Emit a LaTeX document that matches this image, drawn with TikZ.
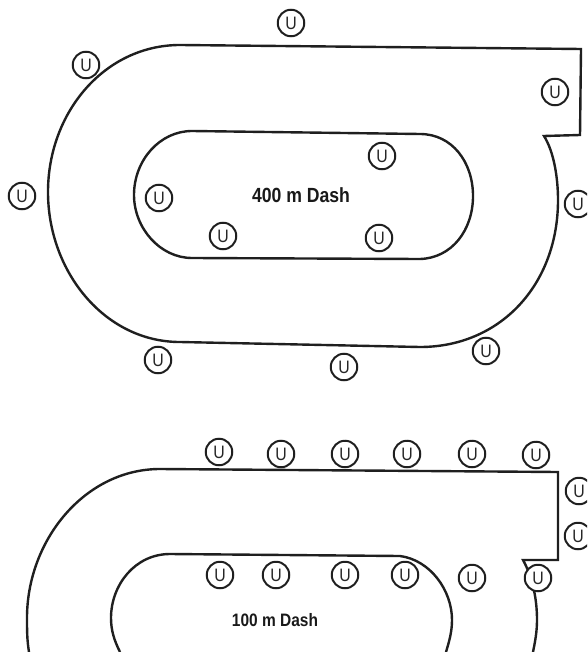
\documentclass[tikz,border=0pt]{standalone}
\usepackage{fontspec}
\setmainfont{Liberation Sans}
\tikzset{
  track/.style={line width=2.4pt,line join=miter,black!88},
  runner/.style={circle,draw=black!88,line width=2pt,minimum size=26.5pt,inner sep=0pt,fill=white,text=black!85},
  runnerU/.style={font=\fontsize{18}{18}\selectfont},
  eventlabel/.style={font=\bfseries\fontsize{20.5}{21}\selectfont,xscale=.86,text=black!90},
  eventlabelsmall/.style={font=\bfseries\fontsize{18}{19}\selectfont,xscale=.86,text=black!90}
}
\newcommand{\runnerglyph}{\scalebox{.88}[1]{U}}
\begin{document}
\begin{tikzpicture}[x=1pt,y=-1pt]
\useasboundingbox (0,0) rectangle (587,652);
\clip (0,0) rectangle (587,652);
% runner drawn under the track
\node[runner,runnerU] (b12) at (405,575) {\runnerglyph};
% upper track
\draw[track] (180,45) -- (581,49) -- (580,135) -- (544,136)
  .. controls (554,152) and (558,178) .. (558,200)
  .. controls (558,285) and (500,347) .. (420,347)
  -- (180,342)
  .. controls (105,342) and (48,272) .. (48,192)
  .. controls (48,112) and (105,45) .. (180,45) -- cycle;
\draw[track] (192,131) -- (420,134)
  .. controls (452,134) and (473,162) .. (473,196)
  .. controls (473,230) and (452,258) .. (420,259)
  -- (192,258)
  .. controls (160,258) and (134,228) .. (134,195)
  .. controls (134,160) and (160,131) .. (192,131) -- cycle;
\node[eventlabel] (a) at (301,195) {400 m Dash};
% lower track
\draw[track] (29,652) .. controls (27,640) and (27,630) .. (27,618)
  .. controls (27,540) and (85,469) .. (160,469)
  -- (558,472) -- (558,560) -- (523,560)
  .. controls (533,578) and (537,600) .. (537,620)
  .. controls (537,632) and (535,642) .. (533,652);
\draw[track] (120,652) .. controls (114,640) and (111,630) .. (111,618)
  .. controls (111,585) and (135,554) .. (170,554)
  -- (400,556)
  .. controls (430,560) and (452,590) .. (452,620)
  .. controls (452,632) and (449,642) .. (446,652);
\node[eventlabelsmall] (b) at (275,620) {100 m Dash};
% runners
\foreach \n/\x/\y in {a1/291/23,a2/86/65,a3/555/92,a4/22/196,a5/578/204,a6/158/360,a7/344/367,a8/486/351,a9/382/156,a10/159/198,a11/223/236,a12/379/238,
 b1/219/452,b2/281/454,b3/345/454,b4/407/454,b5/472/454,b6/536/455,b7/579/491,b8/578/536,b9/220/575,b10/276/575,b11/345/575,b13/472/578,b14/538/578}
  \node[runner,runnerU] (\n) at (\x,\y) {\runnerglyph};
\end{tikzpicture}
\end{document}
